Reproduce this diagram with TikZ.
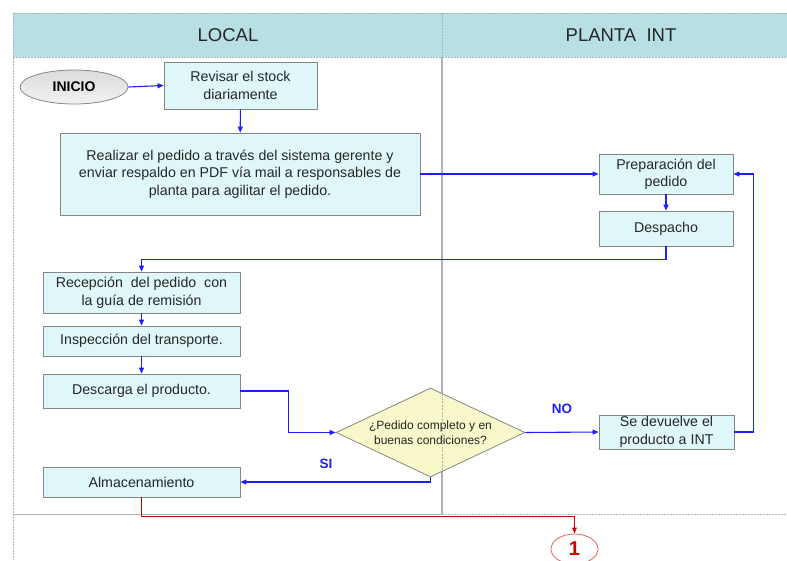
\documentclass[tikz,border=0pt]{standalone}
\usepackage{fontspec}
\setmainfont{Liberation Sans}
\usetikzlibrary{shapes.geometric,arrows.meta}
\definecolor{hdrfill}{HTML}{B8DFE3}
\definecolor{boxfill}{HTML}{E0F7FA}
\definecolor{boxline}{HTML}{858585}
\definecolor{flow}{HTML}{1E1EFF}
\definecolor{decfill}{HTML}{F8F8CB}
\definecolor{laneline}{HTML}{A8B6B9}
\definecolor{endred}{HTML}{D00000}
\definecolor{txt}{HTML}{262626}

\begin{document}
\begin{tikzpicture}[x=1pt,y=-1pt,
  stepbox/.style={draw=boxline, fill=boxfill, line width=0.8pt, align=center,
    inner sep=0pt, text=txt, font=\fontsize{14.2}{17.5}\selectfont},
  decbox/.style={diamond, draw=boxline, fill=decfill, line width=0.8pt,
    inner sep=0pt},
  dectext/.style={align=center, text=txt, font=\fontsize{12}{15}\selectfont},
  startnode/.style={ellipse, draw=boxline, top color=gray!28, bottom color=gray!10,
    line width=0.8pt, inner sep=0pt, text=black, font=\fontsize{14}{16}\selectfont\bfseries},
  pagelink/.style={ellipse, draw=endred!60, fill=white, line width=0.8pt,
    inner sep=0pt, text=endred, font=\fontsize{20}{22}\selectfont\bfseries},
  lanetitle/.style={text=txt, font=\fontsize{18.5}{20}\selectfont},
  flowline/.style={draw=flow, line width=1.1pt, -{Triangle[length=6pt,width=5pt]}},
  endline/.style={draw=endred, line width=1.1pt, -{Triangle[length=6pt,width=4.5pt]}},
  branch/.style={text=flow, font=\fontsize{13.5}{16}\selectfont\bfseries},
  frame/.style={draw=laneline, line width=0.7pt, dash pattern=on 2pt off 1pt},
]
\useasboundingbox (0,0) rectangle (787,560);

% swimlane headers
\fill[hdrfill] (13,13) rectangle (787,57);
\draw[frame] (787,13) -- (13,13) -- (13,560);
\draw[frame] (13,57) -- (787,57);
\draw[frame] (442,13) -- (442,57);
\node[lanetitle] (laneA) at (228,35) {LOCAL};
\node[lanetitle] (laneB) at (621,35) {PLANTA\ \ INT};

% lane divider and lower border
\draw[laneline, line width=1.5pt] (442,57) -- (442,514);
\draw[laneline, line width=1pt] (13,514) -- (442,514);
\draw[frame] (442,514) -- (787,514);

% process steps
\node[startnode, minimum width=108pt, minimum height=34pt] (inicio) at (74,87) {INICIO};
\node[stepbox, minimum width=153pt, minimum height=47pt] (revisar) at (240.5,85.5)
  {Revisar el stock\\diariamente};
\node[stepbox, minimum width=360pt, minimum height=82pt] (realizar) at (240,174)
  {Realizar el pedido a través\ del sistema gerente y\\enviar respaldo en PDF vía mail a responsables de\\planta para agilitar el pedido.};
\node[stepbox, minimum width=134pt, minimum height=40pt] (prep) at (666,174)
  {Preparación del\\pedido};
\node[stepbox, minimum width=134pt, minimum height=35pt] (despacho) at (666,228.5)
  {Despacho};
\node[stepbox, minimum width=197pt, minimum height=41pt] (recepcion) at (141.5,292.5)
  {Recepción\ \ del pedido\ \ con\\la guía de remisión};
\node[stepbox, minimum width=197pt, minimum height=30pt] (inspeccion) at (141.5,341)
  {Inspección del transporte.};
\node[stepbox, minimum width=197pt, minimum height=34pt] (descarga) at (141.5,391)
  {Descarga el producto.};
\node[decbox, minimum width=189pt, minimum height=89pt,
  label={[dectext]center:{¿Pedido completo y en\\buenas condiciones?}}] (decision) at (430.5,432.5) {};
\node[stepbox, minimum width=135pt, minimum height=34pt] (devuelve) at (666.5,432)
  {Se devuelve\ el\\producto a INT};
\node[stepbox, minimum width=197pt, minimum height=30pt] (almacen) at (141.5,482)
  {Almacenamiento};
\node[pagelink, minimum width=47pt, minimum height=30pt] (link1) at (574.5,549) {1};

% divider seen through the decision shape
\draw[laneline, line width=0.8pt, dash pattern=on 2pt off 1.5pt] (442,394) -- (442,471);

% connectors
\draw[flowline] (inicio.east) -- (revisar.west);
\draw[flowline] (revisar) -- (realizar);
\draw[flowline] (realizar.east) -- (prep.west);
\draw[flowline] (prep) -- (despacho);
\draw[flowline] (despacho.south) -- ++(0,13) -| (recepcion.north);
\draw[flowline] (recepcion) -- (inspeccion);
\draw[flowline] (inspeccion) -- (descarga);
\draw[flowline] (descarga.east) -- ++(48,0) |- (decision.west);
\draw[flowline] (decision.east) -- node[branch, above=15pt] (lblno) {NO} (devuelve.west);
\draw[flowline] (devuelve.east) -- ++(19,0) |- (prep.east);
\draw[flowline] (decision.south) |- node[branch, pos=0.775, above=9pt] (lblsi) {SI} (almacen.east);
\draw[endline] (almacen.south) -- ++(0,19) -| (link1.north);
\end{tikzpicture}
\end{document}
